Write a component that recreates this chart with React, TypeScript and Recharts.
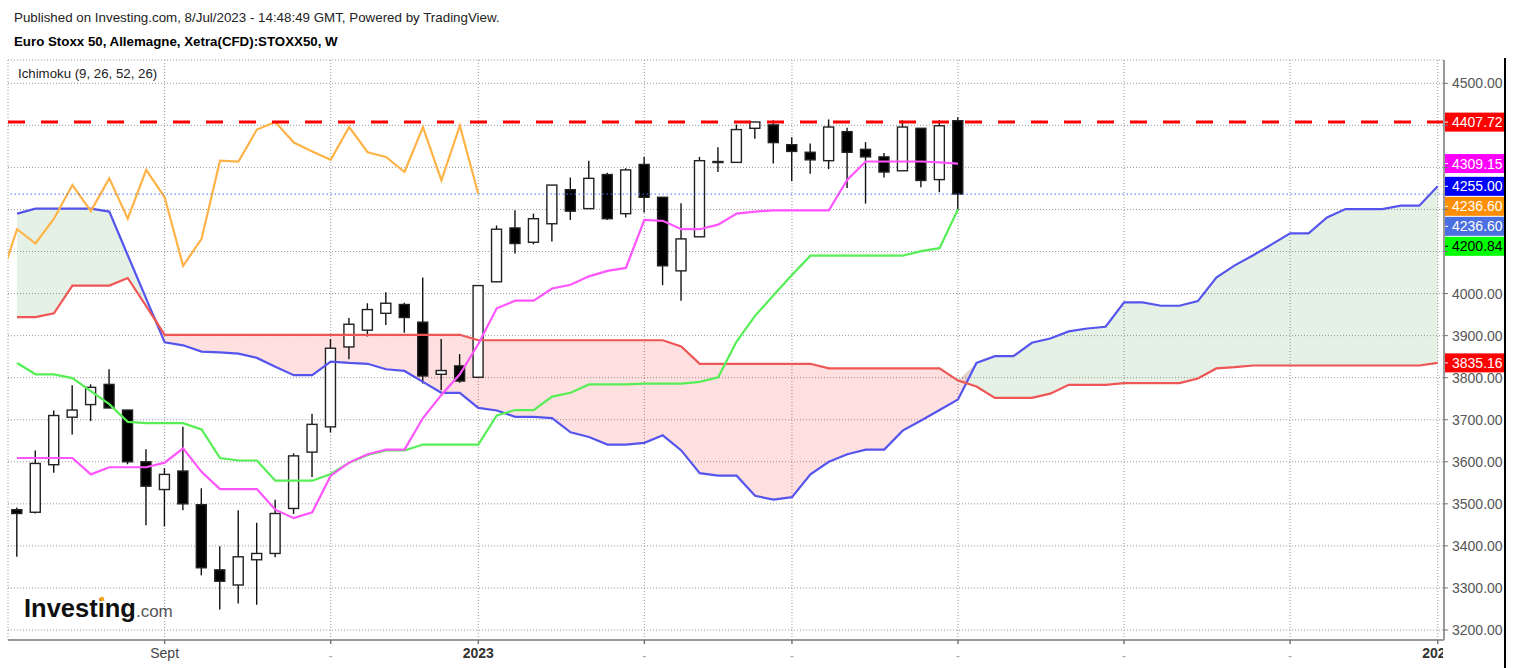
import React from 'react'
import {
  ComposedChart, XAxis, YAxis, CartesianGrid, Line, Area, Bar, ReferenceLine,
} from 'recharts'

// weekly candles, Jul 2022 -> Jul 2023 (index 0..51)
const OPEN = [
  3486, 3480, 3593, 3706, 3736, 3784, 3723, 3600, 3534, 3578, 3498, 3343, 3307,
  3367, 3382, 3489, 3623, 3683, 3873, 3913, 3953, 3974, 3932, 3808, 3828, 3801,
  4028, 4156, 4122, 4166, 4247, 4202, 4283, 4190, 4307, 4229, 4054, 4135, 4312,
  4312, 4393, 4401, 4354, 4336, 4316, 4385, 4343, 4325, 4292, 4393, 4271, 4411,
]
const HIGH = [
  3491, 3627, 3722, 3782, 3784, 3820, 3723, 3630, 3585, 3683, 3537, 3399, 3485,
  3455, 3510, 3620, 3714, 3892, 3942, 3977, 4003, 3978, 4038, 3892, 3856, 4020,
  4162, 4198, 4190, 4258, 4276, 4316, 4287, 4298, 4325, 4229, 4215, 4325, 4348,
  4402, 4408, 4412, 4372, 4357, 4414, 4394, 4360, 4334, 4412, 4393, 4412, 4419,
]
const LOW = [
  3374, 3477, 3574, 3665, 3697, 3728, 3594, 3449, 3446, 3485, 3330, 3249, 3263,
  3260, 3373, 3476, 3564, 3670, 3844, 3898, 3925, 3907, 3786, 3770, 3788, 3801,
  4027, 4095, 4117, 4124, 4175, 4202, 4175, 4181, 4193, 4020, 3983, 4135, 4289,
  4312, 4368, 4309, 4267, 4285, 4296, 4251, 4214, 4276, 4292, 4253, 4241, 4199,
]
const CLOSE = [
  3477, 3596, 3710, 3723, 3777, 3728, 3600, 3542, 3570, 3500, 3348, 3316, 3374,
  3382, 3477, 3614, 3689, 3870, 3927, 3962, 3977, 3943, 3804, 3817, 3792, 4019,
  4153, 4119, 4178, 4258, 4196, 4274, 4178, 4294, 4229, 4066, 4130, 4316, 4314,
  4390, 4408, 4359, 4338, 4318, 4396, 4336, 4325, 4289, 4396, 4269, 4399, 4236.6,
]

// Ichimoku (9, 26, 52, 26)
const TENKAN = [
  3609, 3609, 3609, 3609, 3570, 3587, 3587, 3587, 3598, 3632, 3576, 3535, 3535,
  3535, 3486, 3466, 3480, 3567, 3598, 3618, 3629, 3629, 3704, 3759, 3808, 3880,
  3965, 3983, 3983, 4012, 4021, 4041, 4054, 4061, 4175, 4173, 4153, 4153, 4164,
  4190, 4195, 4198, 4198, 4198, 4198, 4271, 4314, 4314, 4314, 4314, 4312, 4309.15,
]
const KIJUN = [
  3835, 3808, 3808, 3799, 3768, 3737, 3695, 3692, 3692, 3692, 3677, 3609, 3603,
  3603, 3555, 3555, 3555, 3571, 3598, 3616, 3627, 3627, 3641, 3641, 3641, 3641,
  3710, 3723, 3723, 3755, 3764, 3784, 3784, 3784, 3786, 3786, 3786, 3790, 3801,
  3886, 3947, 3996, 4044, 4090, 4090, 4090, 4090, 4090, 4090, 4101, 4108, 4200.84,
]
// leading spans, index 0..77 (26 weeks past the last candle)
const SPAN_A = [
  4190, 4202, 4202, 4202, 4202, 4195, 4091, 3988, 3884, 3877, 3862, 3860, 3857,
  3847, 3826, 3806, 3806, 3838, 3835, 3833, 3820, 3816, 3790, 3764, 3764, 3728,
  3722, 3707, 3707, 3704, 3670, 3659, 3641, 3641, 3645, 3663, 3627, 3573, 3567,
  3567, 3519, 3510, 3516, 3570, 3600, 3618, 3629, 3629, 3674, 3698, 3723, 3748,
  3835, 3851, 3851, 3883, 3893, 3910, 3917, 3921, 3979, 3979, 3971, 3971, 3982,
  4038, 4067, 4091, 4117, 4143, 4143, 4181, 4201, 4201, 4201, 4209, 4209, 4255,
]
const SPAN_B = [
  3944, 3944, 3953, 4019, 4019, 4019, 4037, 3970, 3902, 3902, 3902, 3902, 3902,
  3902, 3902, 3902, 3902, 3902, 3902, 3902, 3902, 3902, 3902, 3902, 3902, 3889,
  3889, 3889, 3889, 3889, 3889, 3889, 3889, 3889, 3889, 3889, 3874, 3833, 3833,
  3833, 3833, 3833, 3833, 3833, 3822, 3822, 3822, 3822, 3822, 3822, 3822, 3793,
  3779, 3752, 3752, 3752, 3762, 3783, 3783, 3783, 3787, 3787, 3787, 3787, 3798,
  3822, 3825, 3829, 3829, 3829, 3829, 3829, 3829, 3829, 3829, 3829, 3829, 3835.16,
]
const LAG_SHIFT = 26
const RESISTANCE = 4407.72

const X_TICKS = [8, 17, 25, 34, 42, 51, 60, 69, 77]
const X_LABELS: Record<number, string> = { 8: 'Sept', 25: '2023', 77: '2024' }
const Y_TICKS = [3200, 3300, 3400, 3500, 3600, 3700, 3800, 3900, 4000, 4100, 4200, 4300, 4400, 4500]

const TAGS = [
  { value: 4407.72, text: '4407.72', bg: '#ff0000', fg: '#fff' },
  { value: 4309.15, text: '4309.15', bg: '#ff00ff', fg: '#fff' },
  { value: 4255.0, text: '4255.00', bg: '#0000ff', fg: '#fff' },
  { value: 4236.6, text: '4236.60', bg: '#ff8f00', fg: '#fff' },
  { value: 4236.6, text: '4236.60', bg: '#4a6fe0', fg: '#fff' },
  { value: 4200.84, text: '4200.84', bg: '#00ff00', fg: '#000' },
  { value: 3835.16, text: '3835.16', bg: '#ff0000', fg: '#fff' },
]

const W = 1513
const H = 668
const PLOT_TOP = 60
const PLOT_H = 580
const Y_DOMAIN: [number, number] = [3176.2, 4555.4]
const X_DOMAIN: [number, number] = [-0.49, 77.34]
const TAG_H = 19
const TAG_STEP = 20

const rows: any[] = []
for (let i = -1; i < SPAN_A.length; i++) {
  const r: any = { i }
  if (i >= 0 && i < CLOSE.length) {
    r.o = OPEN[i]; r.h = HIGH[i]; r.l = LOW[i]; r.c = CLOSE[i]
    r.range = [LOW[i], HIGH[i]]
    r.tenkan = TENKAN[i]
    r.kijun = KIJUN[i]
  }
  const src = i + LAG_SHIFT
  if (src >= 0 && src < CLOSE.length) r.lag = CLOSE[src]
  if (i >= 0) {
    const a = SPAN_A[i], b = SPAN_B[i]
    r.spanA = a
    r.spanB = b
    r.cloudUp = [b, Math.max(a, b)]
    r.cloudDn = [a, Math.max(a, b)]
  }
  rows.push(r)
}

// push tags down so they don't overlap (like the price scale does)
const pxPerPt = PLOT_H / (Y_DOMAIN[1] - Y_DOMAIN[0])
let prevY = -Infinity
const tagShift = TAGS.map(t => {
  const y = PLOT_TOP + (Y_DOMAIN[1] - t.value) * pxPerPt
  const placed = Math.max(y, prevY + TAG_STEP)
  prevY = placed
  return placed - y
})
const tagCenters = TAGS.map((t, k) => PLOT_TOP + (Y_DOMAIN[1] - t.value) * pxPerPt + tagShift[k])

function Candle(props: any) {
  const { x, width, payload } = props
  let { y, height } = props
  if (!payload || payload.h == null) return null
  if (height < 0) { y += height; height = -height }
  const { o, h, l, c } = payload
  const k = h - l > 0 ? height / (h - l) : 0
  const yOf = (v: number) => y + (h - v) * k
  const cx = x + width / 2
  const top = yOf(Math.max(o, c))
  const bot = yOf(Math.min(o, c))
  const up = c >= o
  return (
    <g>
      <line x1={cx} x2={cx} y1={y} y2={y + height} stroke="#111" strokeWidth={1.4} />
      <rect
        x={x} y={top} width={width} height={Math.max(bot - top, 1)}
        fill={up ? '#fff' : '#000'} stroke="#222" strokeWidth={1.4}
      />
    </g>
  )
}

function PriceTag(props: any) {
  const { viewBox, tag, shift } = props
  if (!viewBox) return null
  const left = viewBox.x + viewBox.width - 1
  const cy = viewBox.y + shift
  return (
    <g>
      <rect x={left} y={cy - TAG_H / 2} width={62} height={TAG_H} fill={tag.bg} />
      <line x1={left + 2} x2={left + 5} y1={cy} y2={cy} stroke={tag.fg} strokeWidth={1} />
      <text x={left + 9} y={cy} dy="0.36em" fill={tag.fg} fontSize={14}>{tag.text}</text>
    </g>
  )
}

// price labels hidden under a tag are not drawn
function YTick(props: any) {
  const { x, y, payload } = props
  if (tagCenters.some(cy => Math.abs(cy - y) < TAG_H / 2 + 2)) return null
  return (
    <text x={x} y={y} dy="0.36em" fill="#555" fontSize={14} textAnchor="start">
      {Number(payload.value).toFixed(2)}
    </text>
  )
}

function XTick(props: any) {
  const { x, y, payload } = props
  const label = X_LABELS[payload.value]
  if (!label) return <rect x={x - 1.5} y={y + 10} width={3} height={1.2} fill="#aaa" />
  const bold = label !== 'Sept'
  return (
    <g>
      <defs>
        <clipPath id="xlab-clip">
          <rect x={0} y={0} width={1443} height={H} />
        </clipPath>
      </defs>
      <text
        x={x} y={y} dy={11.5} textAnchor="middle" fontSize={14}
        fontWeight={bold ? 'bold' : 'normal'} fill={bold ? '#333' : '#444'}
        clipPath="url(#xlab-clip)"
      >
        {label}
      </text>
    </g>
  )
}

export default function App() {
  return (
    <div style={{
      position: 'absolute', left: 0, top: 0, width: W, height: H, background: '#fff',
      fontFamily: '"Liberation Sans", Arial, sans-serif',
    }}>
      <ComposedChart
        width={W} height={H} data={rows}
        margin={{ top: PLOT_TOP, right: 8, bottom: 0, left: 8 }}
        style={{ fontFamily: '"Liberation Sans", Arial, sans-serif' }}
      >
        <CartesianGrid stroke="#999" strokeDasharray="1 2" />
        <XAxis
          dataKey="i" type="number" domain={X_DOMAIN} allowDataOverflow
          ticks={X_TICKS} interval={0} height={28}
          axisLine={{ stroke: '#999', strokeWidth: 2 }}
          tickLine={{ stroke: '#777', strokeWidth: 1.5 }} tickSize={4}
          tick={<XTick />}
        />
        <YAxis
          orientation="right" type="number" domain={Y_DOMAIN} allowDataOverflow
          ticks={Y_TICKS} interval={0} width={61}
          axisLine={{ stroke: '#999', strokeWidth: 2 }}
          tickLine={{ stroke: '#777' }} tickSize={4} tickMargin={4}
          tick={<YTick />}
        />

        <Area dataKey="cloudUp" type="linear" stroke="none" fill="#2e8b2e" fillOpacity={0.12} isAnimationActive={false} />
        <Area dataKey="cloudDn" type="linear" stroke="none" fill="#ff0000" fillOpacity={0.12} isAnimationActive={false} />

        <Line dataKey="spanA" type="linear" stroke="#5555ee" strokeWidth={2.2} dot={false} activeDot={false} isAnimationActive={false} />
        <Line dataKey="spanB" type="linear" stroke="#ee5555" strokeWidth={2.2} dot={false} activeDot={false} isAnimationActive={false} />
        <Line dataKey="lag" type="linear" stroke="#ffb347" strokeWidth={2.2} dot={false} activeDot={false} isAnimationActive={false} />
        <Line dataKey="kijun" type="linear" stroke="#55ee55" strokeWidth={2.2} dot={false} activeDot={false} isAnimationActive={false} />
        <Line dataKey="tenkan" type="linear" stroke="#ff55ff" strokeWidth={2.2} dot={false} activeDot={false} isAnimationActive={false} />

        <ReferenceLine y={RESISTANCE} stroke="#ff0000" strokeWidth={3} strokeDasharray="17 16" />
        <ReferenceLine y={CLOSE[CLOSE.length - 1]} stroke="#4a6fe0" strokeWidth={1} strokeDasharray="1.5 2.5" />

        <Bar dataKey="range" barSize={10} shape={<Candle />} isAnimationActive={false} />

        {TAGS.map((t, k) => (
          <ReferenceLine
            key={k} y={t.value} stroke="none"
            label={<PriceTag tag={t} shift={tagShift[k]} />}
          />
        ))}
      </ComposedChart>

      <svg width={W} height={H} style={{ position: 'absolute', left: 0, top: 0, pointerEvents: 'none' }}>
        <text x={14} y={22} fontSize={13.35} fill="#222">
          Published on Investing.com, 8/Jul/2023 - 14:48:49 GMT, Powered by TradingView.
        </text>
        <text x={14} y={46} fontSize={13.3} fontWeight="bold" fill="#000">
          Euro Stoxx 50, Allemagne, Xetra(CFD):STOXX50, W
        </text>
        <text x={18} y={78} fontSize={13.25} fill="#222">Ichimoku (9, 26, 52, 26)</text>
        <text x={24} y={617} fontSize={25.5} fontWeight="bold" fill="#111">
          Investing
          <tspan fontSize={17} fontWeight="normal" fill="#555">.com</tspan>
        </text>
        <rect x={100} y={597} width={4} height={4} fill="#f7a21b" transform="rotate(-20 102 599)" />
        <line x1={1505} x2={1505} y1={58} y2={H} stroke="#000" strokeWidth={2} />
      </svg>
    </div>
  )
}
